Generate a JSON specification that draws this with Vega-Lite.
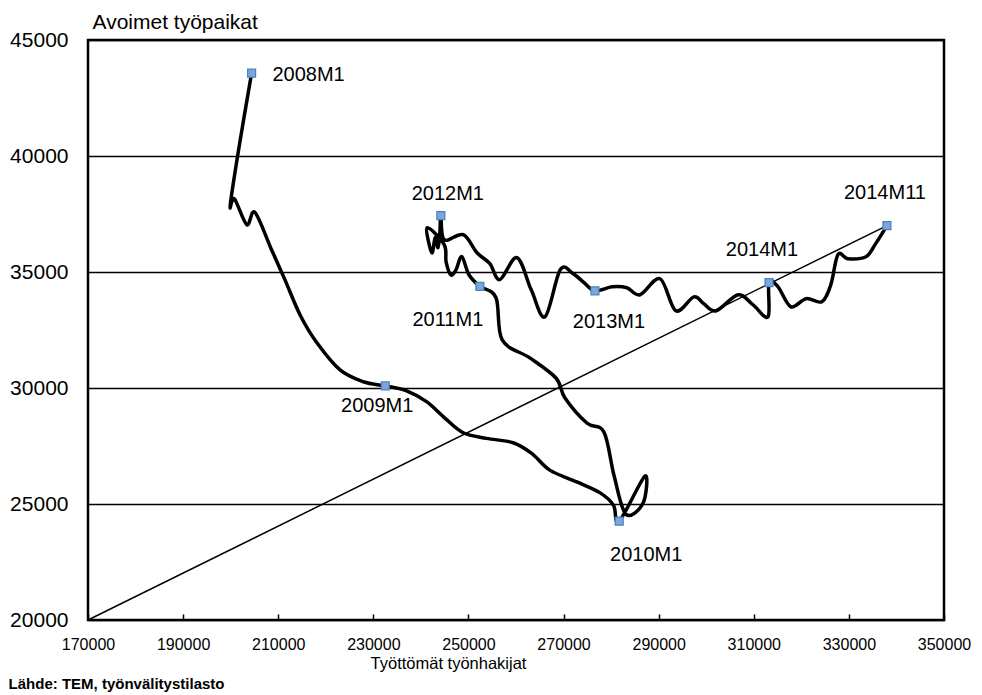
{
  "$schema": "https://vega.github.io/schema/vega-lite/v6.json",
  "width": 856,
  "height": 580,
  "autosize": {"type": "none"},
  "padding": {"left": 88, "top": 40, "right": 38, "bottom": 75},
  "background": "white",
  "config": {
    "view": {"stroke": "black", "strokeWidth": 2.5},
    "font": "Liberation Sans"
  },
  "title": {
    "text": "Lähde: TEM, työnvälitystilasto",
    "orient": "bottom",
    "anchor": "start",
    "frame": "bounds",
    "font": "Liberation Sans",
    "fontSize": 15,
    "fontWeight": "bold",
    "color": "black",
    "offset": 5,
    "dx": -1
  },
  "datasets": {
    "series": [
      {"t": 0, "kk": "2008M1", "x": 204400, "y": 43570},
      {"t": 1, "kk": "2008M2", "x": 201800, "y": 40430},
      {"t": 2, "kk": "2008M3", "x": 199900, "y": 37860},
      {"t": 3, "kk": "2008M4", "x": 200800, "y": 38150},
      {"t": 4, "kk": "2008M5", "x": 203400, "y": 37040},
      {"t": 5, "kk": "2008M6", "x": 205100, "y": 37570},
      {"t": 6, "kk": "2008M7", "x": 208600, "y": 35960},
      {"t": 7, "kk": "2008M8", "x": 211400, "y": 34670},
      {"t": 8, "kk": "2008M9", "x": 214600, "y": 33150},
      {"t": 9, "kk": "2008M10", "x": 218100, "y": 31960},
      {"t": 10, "kk": "2008M11", "x": 223000, "y": 30780},
      {"t": 11, "kk": "2008M12", "x": 227900, "y": 30270},
      {"t": 12, "kk": "2009M1", "x": 232500, "y": 30090},
      {"t": 13, "kk": "2009M2", "x": 237000, "y": 29880},
      {"t": 14, "kk": "2009M3", "x": 241200, "y": 29410},
      {"t": 15, "kk": "2009M4", "x": 245100, "y": 28690},
      {"t": 16, "kk": "2009M5", "x": 248900, "y": 28070},
      {"t": 17, "kk": "2009M6", "x": 253800, "y": 27830},
      {"t": 18, "kk": "2009M7", "x": 259400, "y": 27640},
      {"t": 19, "kk": "2009M8", "x": 263300, "y": 27180},
      {"t": 20, "kk": "2009M9", "x": 267100, "y": 26460},
      {"t": 21, "kk": "2009M10", "x": 272800, "y": 25950},
      {"t": 22, "kk": "2009M11", "x": 277700, "y": 25480},
      {"t": 23, "kk": "2009M12", "x": 280500, "y": 24950},
      {"t": 24, "kk": "2010M1", "x": 281700, "y": 24260},
      {"t": 25, "kk": "2010M2", "x": 287100, "y": 26200},
      {"t": 26, "kk": "2010M3", "x": 286700, "y": 25030},
      {"t": 27, "kk": "2010M4", "x": 283100, "y": 24560},
      {"t": 28, "kk": "2010M5", "x": 280600, "y": 26240},
      {"t": 29, "kk": "2010M6", "x": 278500, "y": 28100},
      {"t": 30, "kk": "2010M7", "x": 274900, "y": 28490},
      {"t": 31, "kk": "2010M8", "x": 270300, "y": 29570},
      {"t": 32, "kk": "2010M9", "x": 268400, "y": 30430},
      {"t": 33, "kk": "2010M10", "x": 262900, "y": 31300},
      {"t": 34, "kk": "2010M11", "x": 257100, "y": 32070},
      {"t": 35, "kk": "2010M12", "x": 255800, "y": 33890},
      {"t": 36, "kk": "2011M1", "x": 252400, "y": 34380},
      {"t": 37, "kk": "2011M2", "x": 250100, "y": 34880},
      {"t": 38, "kk": "2011M3", "x": 248600, "y": 35660},
      {"t": 39, "kk": "2011M4", "x": 247400, "y": 35100},
      {"t": 40, "kk": "2011M5", "x": 246300, "y": 34880},
      {"t": 41, "kk": "2011M6", "x": 245300, "y": 35440},
      {"t": 42, "kk": "2011M7", "x": 244900, "y": 36180},
      {"t": 43, "kk": "2011M8", "x": 241300, "y": 36910},
      {"t": 44, "kk": "2011M9", "x": 242300, "y": 35830},
      {"t": 45, "kk": "2011M10", "x": 243000, "y": 36480},
      {"t": 46, "kk": "2011M11", "x": 243600, "y": 36050},
      {"t": 47, "kk": "2011M12", "x": 244000, "y": 36740},
      {"t": 48, "kk": "2012M1", "x": 244200, "y": 37430},
      {"t": 49, "kk": "2012M2", "x": 244900, "y": 36390},
      {"t": 50, "kk": "2012M3", "x": 248900, "y": 36610},
      {"t": 51, "kk": "2012M4", "x": 251800, "y": 35830},
      {"t": 52, "kk": "2012M5", "x": 254500, "y": 35360},
      {"t": 53, "kk": "2012M6", "x": 256600, "y": 34670},
      {"t": 54, "kk": "2012M7", "x": 260200, "y": 35620},
      {"t": 55, "kk": "2012M8", "x": 263200, "y": 34230},
      {"t": 56, "kk": "2012M9", "x": 266100, "y": 33070},
      {"t": 57, "kk": "2012M10", "x": 269300, "y": 35100},
      {"t": 58, "kk": "2012M11", "x": 272000, "y": 34930},
      {"t": 59, "kk": "2012M12", "x": 274300, "y": 34540},
      {"t": 60, "kk": "2013M1", "x": 276600, "y": 34190},
      {"t": 61, "kk": "2013M2", "x": 280200, "y": 34360},
      {"t": 62, "kk": "2013M3", "x": 283300, "y": 34320},
      {"t": 63, "kk": "2013M4", "x": 286100, "y": 34020},
      {"t": 64, "kk": "2013M5", "x": 290300, "y": 34710},
      {"t": 65, "kk": "2013M6", "x": 293600, "y": 33330},
      {"t": 66, "kk": "2013M7", "x": 297400, "y": 33930},
      {"t": 67, "kk": "2013M8", "x": 299500, "y": 33630},
      {"t": 68, "kk": "2013M9", "x": 302100, "y": 33330},
      {"t": 69, "kk": "2013M10", "x": 306700, "y": 34020},
      {"t": 70, "kk": "2013M11", "x": 309800, "y": 33590},
      {"t": 71, "kk": "2013M12", "x": 313000, "y": 33070},
      {"t": 72, "kk": "2014M1", "x": 313200, "y": 34540},
      {"t": 73, "kk": "2014M2", "x": 315100, "y": 34360},
      {"t": 74, "kk": "2014M3", "x": 317800, "y": 33500},
      {"t": 75, "kk": "2014M4", "x": 321000, "y": 33850},
      {"t": 76, "kk": "2014M5", "x": 324300, "y": 33720},
      {"t": 77, "kk": "2014M6", "x": 326200, "y": 34450},
      {"t": 78, "kk": "2014M7", "x": 327700, "y": 35750},
      {"t": 79, "kk": "2014M8", "x": 329800, "y": 35570},
      {"t": 80, "kk": "2014M9", "x": 333600, "y": 35660},
      {"t": 81, "kk": "2014M10", "x": 335500, "y": 36180},
      {"t": 82, "kk": "2014M11", "x": 338000, "y": 37000}
    ],
    "trend": [
      {"x": 170000, "y": 20000},
      {"x": 338000, "y": 37000}
    ]
  },
  "encoding": {
    "x": {
      "field": "x",
      "type": "quantitative",
      "scale": {"domain": [170000, 350000], "nice": false, "zero": false},
      "axis": {
        "values": [170000, 190000, 210000, 230000, 250000, 270000, 290000, 310000, 330000, 350000],
        "format": "d",
        "grid": false,
        "domain": false,
        "ticks": true,
        "tickSize": -6,
        "tickColor": "black",
        "tickWidth": 1.5,
        "labelPadding": 22,
        "labelFont": "Liberation Sans",
        "labelFontSize": 16,
        "labelColor": "black",
        "labelFlush": false,
        "labelOverlap": false,
        "title": "Työttömät työnhakijat",
        "titleFont": "Liberation Sans",
        "titleFontSize": 16.5,
        "titleFontWeight": "normal",
        "titleColor": "black",
        "titleX": 360,
        "titleY": 48,
        "titleAlign": "center",
        "titleBaseline": "alphabetic"
      }
    },
    "y": {
      "field": "y",
      "type": "quantitative",
      "scale": {"domain": [20000, 45000], "nice": false, "zero": false},
      "axis": {
        "values": [20000, 25000, 30000, 35000, 40000, 45000],
        "format": "d",
        "grid": true,
        "gridColor": "black",
        "gridWidth": 1.5,
        "gridOpacity": 1,
        "domain": false,
        "ticks": false,
        "labelPadding": 20,
        "labelFontSize": 21,
        "labelColor": "black",
        "labelFlush": false,
        "labelOverlap": false,
        "title": "Avoimet työpaikat",
        "titleAngle": 0,
        "titleAlign": "left",
        "titleBaseline": "alphabetic",
        "titleX": 4,
        "titleY": -12,
        "titleFontSize": 21,
        "titleFontWeight": "normal",
        "titleColor": "black"
      }
    }
  },
  "layer": [
    {
      "data": {"name": "trend"},
      "mark": {"type": "line", "color": "black", "strokeWidth": 1.5}
    },
    {
      "data": {"name": "series"},
      "mark": {"type": "line", "interpolate": "cardinal", "color": "black", "strokeWidth": 3.5, "strokeJoin": "round", "strokeCap": "round"},
      "encoding": {"order": {"field": "t", "type": "quantitative"}}
    },
    {
      "data": {"name": "series"},
      "transform": [{"filter": {"field": "kk", "oneOf": ["2008M1", "2009M1", "2010M1", "2011M1", "2012M1", "2013M1", "2014M1", "2014M11"]}}],
      "mark": {"type": "point", "shape": "square", "filled": true, "size": 64, "fill": "#7ba5dd", "stroke": "#4f81bd", "strokeWidth": 1.2, "opacity": 1}
    },
    {
      "data": {"name": "series"},
      "transform": [{"filter": {"field": "kk", "equal": "2008M1"}}],
      "mark": {"type": "text", "fontSize": 20, "align": "center", "baseline": "middle", "dx": 57, "dy": 2, "color": "black"},
      "encoding": {"text": {"field": "kk"}}
    },
    {
      "data": {"name": "series"},
      "transform": [{"filter": {"field": "kk", "equal": "2009M1"}}],
      "mark": {"type": "text", "fontSize": 20, "align": "center", "baseline": "middle", "dx": -8, "dy": 20, "color": "black"},
      "encoding": {"text": {"field": "kk"}}
    },
    {
      "data": {"name": "series"},
      "transform": [{"filter": {"field": "kk", "equal": "2010M1"}}],
      "mark": {"type": "text", "fontSize": 20, "align": "center", "baseline": "middle", "dx": 27, "dy": 34, "color": "black"},
      "encoding": {"text": {"field": "kk"}}
    },
    {
      "data": {"name": "series"},
      "transform": [{"filter": {"field": "kk", "equal": "2011M1"}}],
      "mark": {"type": "text", "fontSize": 20, "align": "center", "baseline": "middle", "dx": -32, "dy": 34, "color": "black"},
      "encoding": {"text": {"field": "kk"}}
    },
    {
      "data": {"name": "series"},
      "transform": [{"filter": {"field": "kk", "equal": "2012M1"}}],
      "mark": {"type": "text", "fontSize": 20, "align": "center", "baseline": "middle", "dx": 7, "dy": -22, "color": "black"},
      "encoding": {"text": {"field": "kk"}}
    },
    {
      "data": {"name": "series"},
      "transform": [{"filter": {"field": "kk", "equal": "2013M1"}}],
      "mark": {"type": "text", "fontSize": 20, "align": "center", "baseline": "middle", "dx": 14, "dy": 31, "color": "black"},
      "encoding": {"text": {"field": "kk"}}
    },
    {
      "data": {"name": "series"},
      "transform": [{"filter": {"field": "kk", "equal": "2014M1"}}],
      "mark": {"type": "text", "fontSize": 20, "align": "center", "baseline": "middle", "dx": -7, "dy": -33, "color": "black"},
      "encoding": {"text": {"field": "kk"}}
    },
    {
      "data": {"name": "series"},
      "transform": [{"filter": {"field": "kk", "equal": "2014M11"}}],
      "mark": {"type": "text", "fontSize": 20, "align": "center", "baseline": "middle", "dx": -2, "dy": -33, "color": "black"},
      "encoding": {"text": {"field": "kk"}}
    }
  ]
}
